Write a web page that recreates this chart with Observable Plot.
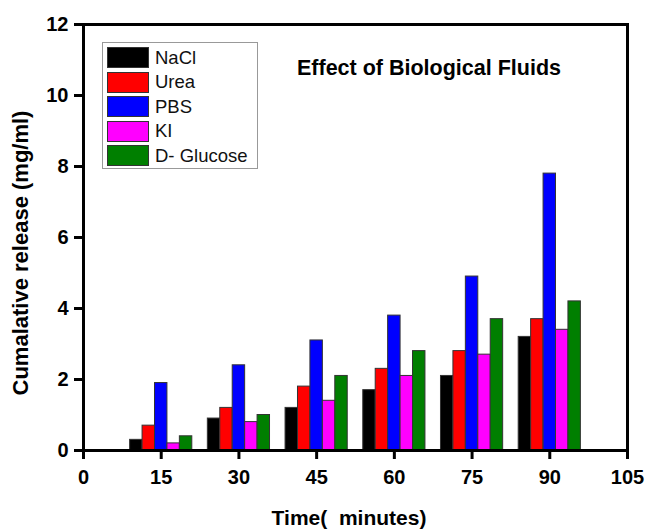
<!DOCTYPE html>
<html>
<head>
<meta charset="utf-8">
<script src="https://cdn.jsdelivr.net/npm/d3@7"></script>
<script src="https://cdn.jsdelivr.net/npm/@observablehq/plot@0.6"></script>
<style>
  html, body { margin: 0; padding: 0; background: #fff; }
  #wrap { position: relative; width: 646px; height: 530px; font-family: "Liberation Sans", Arial, sans-serif; }
  #wrap svg { font-family: "Liberation Sans", Arial, sans-serif; }
  .ov { position: absolute; white-space: pre; color: #000; line-height: 1; }
  #legend { position: absolute; left: 102px; top: 42px; width: 156px; height: 127px; border: 1px solid #999; background: #fff; box-sizing: border-box; }
  .row { position: absolute; left: 4px; height: 21px; display: flex; align-items: center; }
  .sw { width: 42px; height: 21px; box-sizing: border-box; border: 1px solid #333; margin-right: 6px; }
  .lab { font-size: 18.5px; color: #111; }
</style>
</head>
<body>
<div id="wrap"></div>
<script>
const times = [15, 30, 45, 60, 75, 90];
const seriesNames = ["NaCl", "Urea", "PBS", "KI", "D- Glucose"];
const seriesColors = ["#000000", "#ff0000", "#0000ff", "#ff00ff", "#007f00"];
const nacl    = [0.3, 0.9, 1.2, 1.7, 2.1, 3.2];
const urea    = [0.7, 1.2, 1.8, 2.3, 2.8, 3.7];
const pbs     = [1.9, 2.4, 3.1, 3.8, 4.9, 7.8];
const ki      = [0.2, 0.8, 1.4, 2.1, 2.7, 3.4];
const glucose = [0.4, 1.0, 2.1, 2.8, 3.7, 4.2];
const xTicks = [0, 15, 30, 45, 60, 75, 90, 105];
const yTicks = [0, 2, 4, 6, 8, 10, 12];
const titleText = "Effect of Biological Fluids";
const xLabel = "Time(  minutes)";
const yLabel = "Cumalative release (mg/ml)";

const seriesValues = [nacl, urea, pbs, ki, glucose];
const barW = 2.4; // bar width in minutes
const data = [];
seriesValues.forEach((vals, si) => {
  vals.forEach((v, ti) => {
    const x1 = times[ti] + (si - 2.5) * barW;
    data.push({series: seriesNames[si], time: times[ti], value: v, x1, x2: x1 + barW});
  });
});

const chart = Plot.plot({
  width: 646,
  height: 530,
  marginLeft: 83,
  marginRight: 19,
  marginTop: 24,
  marginBottom: 80,
  style: {fontFamily: "Liberation Sans, Arial, sans-serif", background: "#fff"},
  x: {domain: [0, 105]},
  y: {domain: [0, 12]},
  color: {domain: seriesNames, range: seriesColors},
  marks: [
    Plot.rectY(data, {x1: "x1", x2: "x2", y: "value", fill: "series", stroke: "#333", strokeWidth: 1}),
    Plot.frame({stroke: "#000", strokeWidth: 3}),
    Plot.axisX({ticks: xTicks, tickSize: 9, tickPadding: 10, strokeWidth: 3, fontSize: 20, fontWeight: "bold", label: null, tickFormat: d => String(d)}),
    Plot.axisY({ticks: yTicks, tickSize: 9, tickPadding: 6, strokeWidth: 3, fontSize: 20, fontWeight: "bold", label: null, tickFormat: d => String(d)})
  ]
});

const wrap = document.getElementById("wrap");
wrap.appendChild(chart);

// Title
const t = document.createElement("div");
t.className = "ov";
t.textContent = titleText;
t.style.cssText = "left:297px; top:58px; font-size:21.5px; font-weight:bold;";
wrap.appendChild(t);

// X axis title
const xl = document.createElement("div");
xl.className = "ov";
xl.textContent = xLabel;
xl.style.cssText = "left:0; width:698px; text-align:center; top:507px; font-size:21px; font-weight:bold;";
wrap.appendChild(xl);

// Y axis title (rotated)
const yl = document.createElement("div");
yl.className = "ov";
yl.textContent = yLabel;
yl.style.cssText = "left:21px; top:253px; font-size:22px; font-weight:bold; transform: translate(-50%,-50%) rotate(-90deg);";
wrap.appendChild(yl);

// Legend
const lg = document.createElement("div");
lg.id = "legend";
seriesNames.forEach((name, i) => {
  const row = document.createElement("div");
  row.className = "row";
  row.style.top = (4 + i * 24.6) + "px";
  const sw = document.createElement("div");
  sw.className = "sw";
  sw.style.background = seriesColors[i];
  const lab = document.createElement("span");
  lab.className = "lab";
  lab.textContent = name;
  row.appendChild(sw);
  row.appendChild(lab);
  lg.appendChild(row);
});
wrap.appendChild(lg);
</script>
</body>
</html>
